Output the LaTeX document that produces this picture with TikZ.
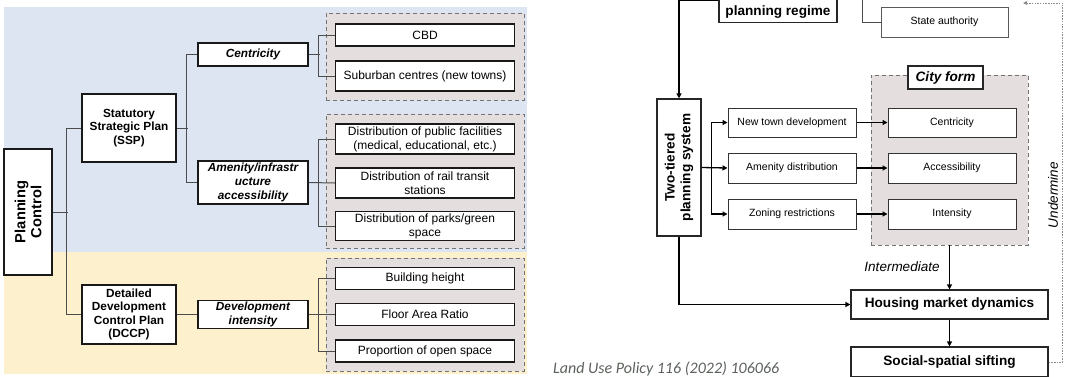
\documentclass[tikz,border=0pt]{standalone}
\usepackage{fontspec}
\setmainfont{Liberation Sans}
\newfontfamily\citefont{Carlito}
\usetikzlibrary{arrows.meta}
\definecolor{bgblue}{RGB}{221,229,243}
\definecolor{bgbeige}{RGB}{252,240,205}
\definecolor{grpfill}{RGB}{228,222,222}
\definecolor{citegray}{RGB}{92,98,92}
\tikzset{
  lbox/.style={draw=black!90, line width=1.2pt, fill=white, inner sep=1pt, align=center,
    font=\fontsize{11.8}{13.6}\selectfont\bfseries},
  litem/.style={draw=black!90, line width=1.2pt, fill=white, inner sep=1pt, align=center,
    minimum width=179pt, font=\fontsize{12}{14}\selectfont},
  grp/.style={draw=black!55, dash pattern=on 4pt off 3pt, line width=0.9pt, fill=grpfill, inner sep=0pt},
  lcon/.style={draw=black!70, line width=1pt},
  rbox/.style={draw=black!80, line width=1pt, fill=white, inner sep=1pt, align=center,
    font=\fontsize{10.5}{12}\selectfont},
  rbig/.style={draw=black!85, line width=1.2pt, fill=white, inner sep=1pt, align=center,
    font=\fontsize{13.6}{15.6}\selectfont\bfseries},
  arr/.style={line width=1.3pt, -{Triangle[length=5pt,width=5pt]}},
}
\begin{document}
\begin{tikzpicture}[x=1pt, y=-1pt]
\useasboundingbox (0,0) rectangle (1066,376);
\clip (0,0) rectangle (1066,376);
\fill[white] (0,0) rectangle (1066,376);

% ---------- left panel ----------
\fill[bgblue] (4,7) rectangle (527,252);
\fill[bgbeige] (4,252) rectangle (527,374);

\node[grp, minimum width=198pt, minimum height=87pt] (g1) at (425,56.5) {};
\node[grp, minimum width=198pt, minimum height=134pt] (g2) at (425,181) {};
\node[grp, minimum width=198pt, minimum height=113pt] (g3) at (425,314.5) {};

\node[lbox, minimum width=48pt, minimum height=126pt] (pc) at (28,212) {};
\node[rotate=90, align=center, font=\fontsize{14.7}{16}\selectfont\bfseries] (pctext) at (pc.center) {Planning\\Control};
\node[lbox, minimum width=94pt, minimum height=68pt] (ssp) at (129,128) {Statutory\\Strategic Plan\\(SSP)};
\node[lbox, minimum width=94pt, minimum height=59pt] (dccp) at (129,314.5) {Detailed\\Development\\Control Plan\\(DCCP)};

\node[lbox, minimum width=110pt, minimum height=23pt, font=\fontsize{11.8}{13.6}\selectfont\bfseries\itshape] (cen) at (253,54.5) {Centricity};
\node[lbox, minimum width=110pt, minimum height=43pt, font=\fontsize{11.8}{13.6}\selectfont\bfseries\itshape] (ame) at (253,182.5) {Amenity/infrastr\\ucture\\accessibility};
\node[lbox, minimum width=110pt, minimum height=28pt, font=\fontsize{11.8}{13.6}\selectfont\bfseries\itshape] (dev) at (253,314.5) {Development\\intensity};

\node[litem, minimum height=22pt] (cbd) at (425,35) {CBD};
\node[litem, minimum height=30pt] (sub) at (425,76) {Suburban centres (new towns)};
\node[litem, minimum height=30pt] (pub) at (425,139) {Distribution of public facilities\\(medical, educational, etc.)};
\node[litem, minimum height=30pt] (rail) at (425,183) {Distribution of rail transit\\stations};
\node[litem, minimum height=29pt] (park) at (425,226) {Distribution of parks/green\\space};
\node[litem, minimum height=22pt] (bh) at (425,278.5) {Building height};
\node[litem, minimum height=22pt] (far) at (425,314.5) {Floor Area Ratio};
\node[litem, minimum height=22pt] (prop) at (425,351) {Proportion of open space};

\draw[lcon] (pc.east) -- ++(15,0);
\draw[lcon] (ssp.west) -- ++(-15,0) |- (dccp.west);
\draw[lcon] (ssp.east) -- ++(11,0);
\draw[lcon] (cen.west) -- ++(-11,0) |- (ame.west);
\draw[lcon] (dccp.east) -- (dev.west);
\draw[lcon] (cen.east) -- ++(11,0);
\draw[lcon] (cbd.west) -- ++(-16.5,0) |- (sub.west);
\draw[lcon] (ame.east) -- (rail.west);
\draw[lcon] (pub.west) -- ++(-16.5,0) |- (park.west);
\draw[lcon] (dev.east) -- (far.west);
\draw[lcon] (bh.west) -- ++(-16.5,0) |- (prop.west);

% ---------- citation ----------
\node[anchor=base west, inner sep=0pt, text=citegray, font=\citefont\itshape\fontsize{16}{18}\selectfont] (cite) at (553,373.5) {Land Use Policy 116 (2022) 106066};

% ---------- right panel ----------
\node[rbig, anchor=south, minimum width=118pt, text height=34pt, text depth=3pt, inner ysep=4pt] (regime) at (778,23) {planning regime};
\node[rbox, draw=black!65, minimum width=127pt, minimum height=30pt] (state) at (944.5,22) {State authority};

\node[rbig, minimum width=44pt, minimum height=137pt] (two) at (679,167.5) {};
\node[rotate=90, align=center, font=\fontsize{13.6}{15.6}\selectfont\bfseries] (twotext) at (two.center) {Two-tiered\\planning system};

\node[rbox, minimum width=128pt, minimum height=29pt] (ntd) at (792,122.5) {New town development};
\node[rbox, minimum width=128pt, minimum height=30pt] (amd) at (792,168) {Amenity distribution};
\node[rbox, minimum width=128pt, minimum height=30pt] (zon) at (792,214) {Zoning restrictions};

\node[grp, minimum width=157pt, minimum height=170pt] (cf) at (949.5,160) {};
\node[rbig, minimum width=75pt, minimum height=23pt, font=\fontsize{13.6}{15.6}\selectfont\bfseries\itshape] (cftitle) at (945.5,77.5) {City form};
\node[rbox, minimum width=128pt, minimum height=29pt] (cent) at (952,122.5) {Centricity};
\node[rbox, minimum width=128pt, minimum height=30pt] (acc) at (952,168) {Accessibility};
\node[rbox, minimum width=128pt, minimum height=30pt] (inten) at (952,214) {Intensity};

\node[rbig, minimum width=197pt, minimum height=29pt] (hmd) at (949.5,304.5) {Housing market dynamics};
\node[rbig, minimum width=197pt, minimum height=30pt] (ssf) at (949.5,362) {Social-spatial sifting};

\node[font=\fontsize{13.5}{15}\selectfont\itshape, inner sep=0pt] (interm) at (902,267) {Intermediate};
\node[rotate=90, font=\fontsize{13.5}{15}\selectfont\itshape, inner sep=0pt] (under) at (1053,195) {Undermine};

\coordinate (uend) at (1023,3);

\draw[line width=1pt, draw=black!70] (regime.east) -- ++(25,0) |- (state.west);
\draw[arr] (regime.west) -| (two.north);
\draw[arr] (two.east) -- (amd.west);
\draw[arr] (two.east) -- ++(10,0) |- (ntd.west);
\draw[arr] (two.east) -- ++(10,0) |- (zon.west);
\draw[arr] (ntd.east) -- (cent.west);
\draw[arr] (amd.east) -- (acc.west);
\draw[arr] (zon.east) -- (inten.west);
\draw[arr] (cf.south) -- (hmd.north);
\draw[arr] (hmd.south) -- (ssf.north);
\draw[arr] (two.south) |- (hmd.west);
\draw[draw=black!45, line width=0.9pt, dash pattern=on 1.5pt off 1.2pt, -{Triangle[length=4pt,width=3.5pt]}] (ssf.east) -- ++(14,0) |- (uend);
\end{tikzpicture}
\end{document}
